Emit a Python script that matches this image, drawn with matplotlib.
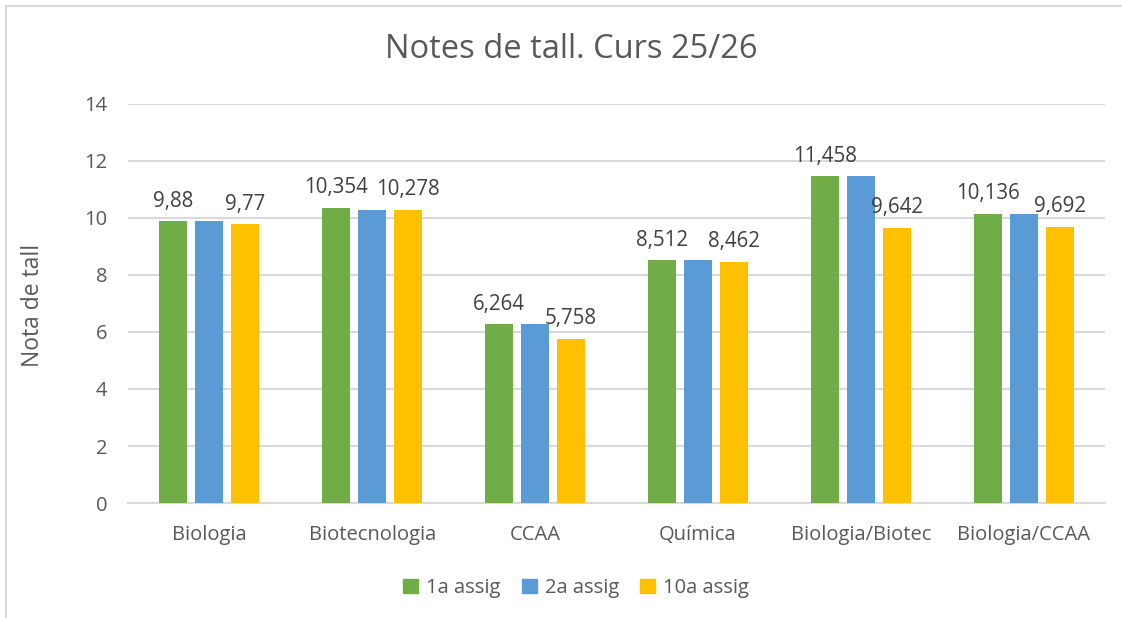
import matplotlib
matplotlib.use('Agg')
import matplotlib.pyplot as plt
import numpy as np
from matplotlib.lines import Line2D

# Dades
categories = ['Biologia', 'Biotecnologia', 'CCAA', 'Química', 'Biologia/Biotec', 'Biologia/CCAA']
series_names = ['1a assig', '2a assig', '10a assig']
nota_1a = [9.88, 10.354, 6.264, 8.512, 11.458, 10.136]
nota_2a = [9.88, 10.278, 6.264, 8.512, 11.458, 10.136]
nota_10a = [9.77, 10.278, 5.758, 8.462, 9.642, 9.692]
y_ticks = [0, 2, 4, 6, 8, 10, 12, 14]

colors = ['#70AD47', '#5B9BD5', '#FFC000']
text_col = '#595959'
grid_col = '#D9D9D9'

plt.rcParams['font.family'] = ['Open Sans', 'DejaVu Sans']

fig = plt.figure(figsize=(11.22, 6.18), dpi=100)
ax = fig.add_axes([0.114, 0.186, 0.871, 0.646])

x = np.arange(len(categories))
w = 0.172
step = 0.221

series = [nota_1a, nota_2a, nota_10a]
for i, vals in enumerate(series):
    ax.bar(x + (i - 1) * step, vals, width=w, color=colors[i], label=series_names[i], zorder=3)

# etiquetes de dades (només 1a i 10a assig)
def fmt(v):
    s = ('%.3f' % v).rstrip('0').rstrip('.')
    return s.replace('.', ',')

for i in (0, 2):
    for xi, v in zip(x, series[i]):
        ax.annotate(fmt(v), (xi + (i - 1) * step, v), xytext=(0, 7), textcoords='offset points',
                    ha='center', va='bottom', fontsize=14.8, color='#404040')

ax.set_xlim(-0.5, len(categories) - 0.5)
ax.set_ylim(0, 14)
ax.set_yticks(y_ticks)
ax.set_xticks(x)
ax.set_xticklabels(categories)
ax.tick_params(axis='both', length=0, labelsize=14.5, labelcolor=text_col)
ax.tick_params(axis='x', pad=16)
ax.tick_params(axis='y', pad=15)
ax.grid(axis='y', color=grid_col, linewidth=1.5, zorder=0)
for sp in ['top', 'right', 'left']:
    ax.spines[sp].set_visible(False)
ax.spines['bottom'].set_color(grid_col)
ax.spines['bottom'].set_linewidth(1.5)

fig.text(33 / 1122, 1 - 305 / 618, 'Nota de tall', rotation=90, ha='center', va='center',
         fontsize=16.5, color=text_col)

fig.text(571 / 1122, 1 - 50 / 618, 'Notes de tall. Curs 25/26', ha='center', va='center', fontsize=23.5, color=text_col)

handles = [plt.Rectangle((0, 0), 1, 1, color=c) for c in colors]
fig.legend(handles, series_names, loc='center', bbox_to_anchor=(576 / 1122, 1 - 588 / 618), ncol=3, frameon=False,
           fontsize=14.5, labelcolor=text_col, handlelength=0.75, handleheight=0.75,
           handletextpad=0.4, columnspacing=1.05)

# vora del gràfic (superior i esquerra)
fig.add_artist(Line2D([6 / 1122, 1], [1 - 6 / 618, 1 - 6 / 618], color=grid_col, linewidth=1.5, transform=fig.transFigure))
fig.add_artist(Line2D([6 / 1122, 6 / 1122], [0, 1 - 6 / 618], color=grid_col, linewidth=1.5, transform=fig.transFigure))

plt.savefig('out.png', dpi=100)
plt.close('all')
